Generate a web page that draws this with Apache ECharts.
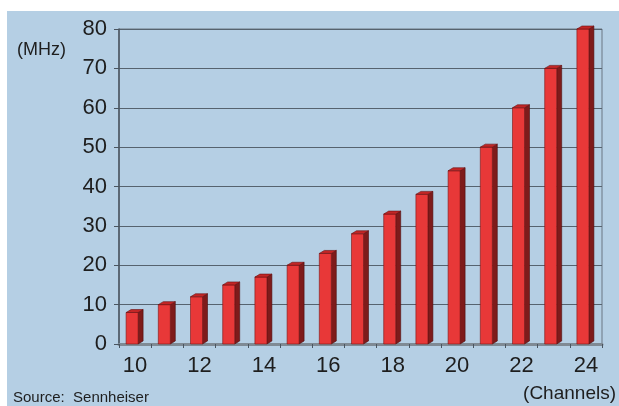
<!DOCTYPE html>
<html>
<head>
<meta charset="utf-8">
<script src="https://cdn.jsdelivr.net/npm/echarts@6/dist/echarts.min.js"></script>
<style>
html,body{margin:0;padding:0;background:#fff;}
#chart{width:619px;height:406px;}
</style>
</head>
<body>
<div id="chart"></div>
<script>
const channels = ['10','11','12','13','14','15','16','17','18','19','20','21','22','23','24'];
const mhz = [8, 10, 12, 15, 17, 20, 23, 28, 33, 38, 44, 50, 60, 70, 80];
const yTicks = [0, 10, 20, 30, 40, 50, 60, 70, 80];

const chart = echarts.init(document.getElementById('chart'), null, {renderer: 'canvas'});
const FONT = 'Liberation Sans, Arial, sans-serif';

function renderBar(params, api) {
  const x = api.value(0);
  const v = api.value(1);
  const base = api.coord([x, 0]);
  const top = api.coord([x, v]);
  const bw = 12, d = 5, dy = 3;
  const x0 = top[0] - 9;
  const ty = top[1], by = base[1];
  return {
    type: 'group',
    children: [
      {type: 'polygon', shape: {points: [[x0 + bw, ty], [x0 + bw + d, ty - dy], [x0 + bw + d, by - dy], [x0 + bw, by]]},
       style: {fill: '#7e1b1b', stroke: '#4d0d0d', lineWidth: 0.6}},
      {type: 'rect', shape: {x: x0, y: ty, width: bw, height: by - ty},
       style: {fill: '#e83838', stroke: '#7a1414', lineWidth: 0.6}},
      {type: 'polygon', shape: {points: [[x0, ty], [x0 + d, ty - dy], [x0 + bw + d, ty - dy], [x0 + bw, ty]]},
       style: {fill: '#c22626', stroke: '#6a1010', lineWidth: 0.6}}
    ]
  };
}

chart.setOption({
  backgroundColor: 'transparent',
  animation: false,
  grid: {left: 119, right: 17, top: 29, bottom: 62, show: true, borderColor: '#6a7783', borderWidth: 1, backgroundColor: 'transparent'},
  xAxis: {
    type: 'category',
    data: channels,
    boundaryGap: true,
    axisLine: {show: true, lineStyle: {color: '#7f8a94', width: 3}},
    axisTick: {show: true, interval: 0, length: 4, alignWithLabel: false, lineStyle: {color: '#4a5560', width: 1}},
    axisLabel: {interval: 1, margin: 11, fontSize: 22, color: '#1e1e1e', fontFamily: FONT},
    splitLine: {show: false}
  },
  yAxis: {
    type: 'value',
    min: 0, max: 80, interval: 10,
    axisLine: {show: true, lineStyle: {color: '#4a5560', width: 1.5}},
    axisTick: {show: true, length: 5, lineStyle: {color: '#4a5560', width: 1}},
    axisLabel: {margin: 12, fontSize: 22, color: '#1e1e1e', fontFamily: FONT,
      formatter: function (v) { return yTicks.indexOf(v) >= 0 ? String(v) : ''; }},
    splitLine: {show: true, lineStyle: {color: '#56636f', width: 1.2}}
  },
  graphic: [
    {type: 'rect', left: 7, top: 11, shape: {width: 612, height: 395}, style: {fill: '#b5cfe4'}, z: -10, silent: true},
    {type: 'text', left: 17, top: 41, style: {text: '(MHz)', font: '18px ' + FONT, fill: '#1e1e1e'}},
    {type: 'text', right: 3, top: 384, style: {text: '(Channels)', font: '19px ' + FONT, fill: '#1e1e1e'}},
    {type: 'text', left: 13, top: 390, style: {text: 'Source:  Sennheiser', font: '15px ' + FONT, fill: '#1e1e1e'}}
  ],
  series: [{
    type: 'custom',
    renderItem: renderBar,
    encode: {x: 0, y: 1},
    data: channels.map(function (c, i) { return [i, mhz[i]]; }),
    z: 5
  }]
});
</script>
</body>
</html>
